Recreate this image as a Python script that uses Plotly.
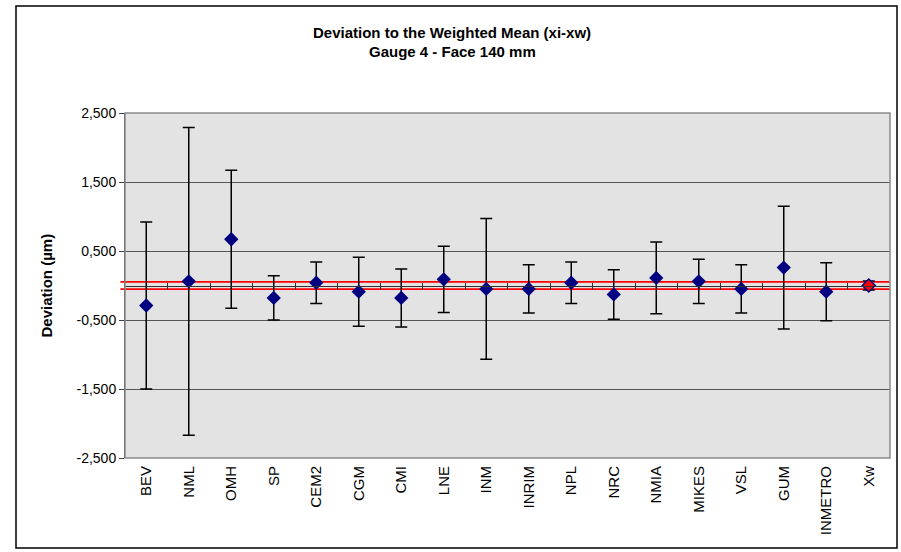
import plotly.graph_objects as go

# ---- data ----
labs = ["BEV", "NML", "OMH", "SP", "CEM2", "CGM", "CMI", "LNE", "INM", "INRIM",
        "NPL", "NRC", "NMIA", "MIKES", "VSL", "GUM", "INMETRO"]
deviation = [-0.29, 0.06, 0.67, -0.18, 0.04, -0.09, -0.18, 0.09, -0.05, -0.05,
             0.04, -0.13, 0.11, 0.06, -0.05, 0.26, -0.09]
uncert = [1.21, 2.23, 1.00, 0.32, 0.30, 0.50, 0.42, 0.48, 1.02, 0.35,
          0.30, 0.36, 0.52, 0.32, 0.35, 0.89, 0.42]
ref_label = ["Xw"]
ref_value = [0.0]
ref_uncert = [0.065]
ref_band = 0.053
ytick_vals = [-2.5, -1.5, -0.5, 0.5, 1.5, 2.5]
ytick_text = ["-2,500", "-1,500", "-0,500", "0,500", "1,500", "2,500"]
title_lines = ["Deviation to the Weighted Mean (xi-xw)", "Gauge 4 - Face 140 mm"]
y_title = "Deviation (µm)"

categories = labs + ref_label
n = len(categories)

FONT = "Liberation Sans, Arial, sans-serif"
W, H = 901, 552
L, R, T, B = 125, 11, 113, 94
pw, ph = W - L - R, H - T - B

fig = go.Figure()

fig.add_trace(go.Scatter(
    x=labs, y=deviation, mode="markers",
    marker=dict(symbol="diamond", size=11, color="#000080", line=dict(width=0)),
    error_y=dict(type="data", array=uncert, visible=True, color="black",
                 thickness=1.5, width=6),
    showlegend=False, hoverinfo="x+y"))

fig.add_trace(go.Scatter(
    x=ref_label, y=ref_value, mode="markers",
    marker=dict(symbol="diamond", size=10, color="#ff0000",
                line=dict(width=1.5, color="#000080")),
    error_y=dict(type="data", array=ref_uncert, visible=True, color="black",
                 thickness=1.5, width=6),
    showlegend=False, hoverinfo="x+y"))

# helper invisible traces for the axis drawn through zero
for ax in ["x2", "x3"]:
    fig.add_trace(go.Scatter(x=list(range(n)), y=[0] * n, xaxis=ax, yaxis="y",
                             mode="markers", marker=dict(opacity=0),
                             showlegend=False, hoverinfo="skip"))

boundaries = [i + 0.5 for i in range(n - 1)]
mid_axis = dict(overlaying="x", anchor="free", position=0.5, range=[-0.5, n - 0.5],
                tickvals=boundaries, showticklabels=False, showline=True,
                linecolor="#303030", linewidth=1, tickcolor="#303030", ticklen=3,
                showgrid=False, zeroline=False, fixedrange=True)

fig.update_layout(
    width=W, height=H,
    margin=dict(l=L, r=R, t=T, b=B),
    paper_bgcolor="white", plot_bgcolor="#e3e3e3",
    font=dict(family=FONT, size=14, color="black"),
    xaxis=dict(type="category", categoryorder="array", categoryarray=categories,
               range=[-0.5, n - 0.5], tickangle=-90, showgrid=False, zeroline=False,
               showline=False, ticks="", ticklabelstandoff=4,
               tickfont=dict(size=15, family=FONT)),
    xaxis2=dict(mid_axis, ticks="outside"),
    xaxis3=dict(mid_axis, ticks="inside"),
    yaxis=dict(range=[-2.5, 2.5], tickvals=ytick_vals, ticktext=ytick_text,
               showgrid=True, gridcolor="#555555", gridwidth=1, zeroline=False,
               showline=True, linecolor="#404040", linewidth=1,
               ticks="outside", ticklen=5, tickcolor="#404040",
               tickfont=dict(size=14, family=FONT)),
)

# red tolerance band lines
for v in [ref_band, -ref_band]:
    fig.add_shape(type="line", xref="x domain", yref="y", x0=-0.006, x1=1,
                  y0=v, y1=v, line=dict(color="#ff0000", width=1.8), layer="below")

# plot area frame (right/top)
fig.add_shape(type="rect", xref="paper", yref="paper", x0=0, x1=1, y0=0, y1=1,
              line=dict(color="#8a8a8a", width=1.5), layer="above")

# outer chart border
fig.add_shape(type="rect", xref="paper", yref="paper",
              x0=(16 - L) / pw, x1=(897 - L) / pw,
              y0=(H - B - 548) / ph, y1=(H - B - 6) / ph,
              line=dict(color="black", width=1.5))

# titles
title_x = (452 - L) / pw
for line, ypix in zip(title_lines, [32, 51]):
    fig.add_annotation(text="<b>" + line + "</b>", xref="paper", yref="paper",
                       x=title_x, y=(H - B - ypix) / ph, showarrow=False,
                       xanchor="center", yanchor="middle",
                       font=dict(size=15, family=FONT, color="black"))

fig.add_annotation(text="<b>" + y_title + "</b>", xref="paper", yref="paper",
                   x=(46 - L) / pw, y=0.5, textangle=-90, showarrow=False,
                   xanchor="center", yanchor="middle",
                   font=dict(size=15, family=FONT, color="black"))

fig.write_html("out.html", config={"displayModeBar": False},
               post_script="document.body.style.margin='0';")
